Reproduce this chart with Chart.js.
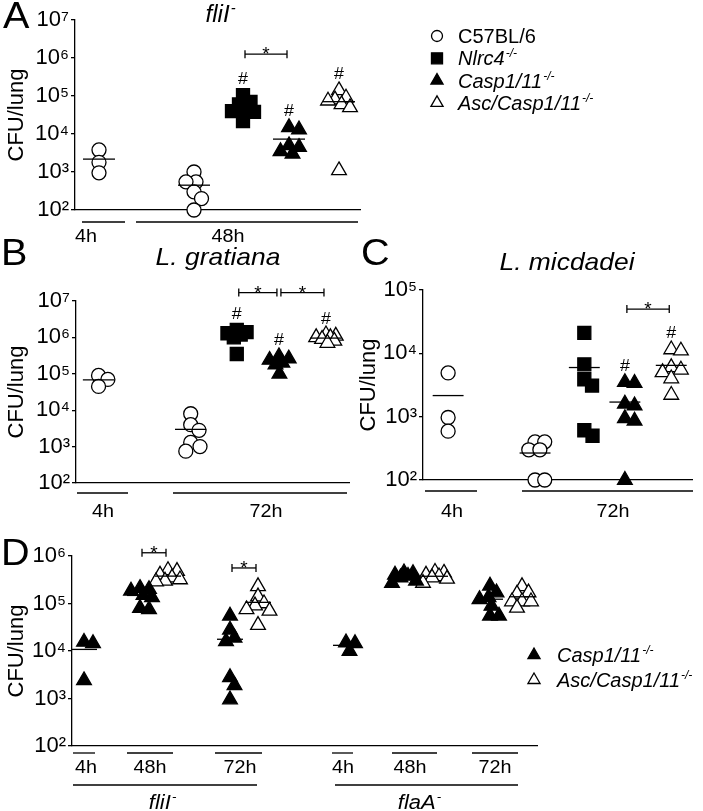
<!DOCTYPE html>
<html lang="en">
<head>
<meta charset="UTF-8">
<title>CFU/lung</title>
<script src="https://cdn.jsdelivr.net/npm/chart.js@4.4.1/dist/chart.umd.min.js"></script>
<style>
  html, body { margin: 0; padding: 0; background: #fff; }
  #fig { position: relative; width: 703px; height: 811px; overflow: hidden; }
  #fig canvas { position: absolute; }
</style>
</head>
<body>
<div id="fig">
  <canvas id="chartA"></canvas>
  <canvas id="chartB"></canvas>
  <canvas id="chartC"></canvas>
  <canvas id="chartD"></canvas>
</div>

<script>
const FONT = "'Liberation Sans', Arial, Helvetica, sans-serif";

// strains (legend order)
const strains = ['C57BL/6', 'Nlrc4', 'Casp1/11', 'Asc/Casp1/11'];
const strainSup = ['', '-/-', '-/-', '-/-'];
const strainItalic = [false, true, true, true];
const strainShape = ['circle', 'rect', 'triangle', 'triangle'];
const strainFill = ['#fff', '#000', '#000', '#fff'];

// A: fliI-  (CFU/lung)
const aC57_4h = [3800, 1800, 950];
const aC57_48h = [1000, 550, 550, 300, 200, 100];
const aNlrc4_48h = [105000, 70000, 60000, 45000, 40000, 38000, 22000];
const aCasp_48h = [15000, 13000, 5000, 4500, 3500, 3000];
const aAsc_48h = [140000, 90000, 80000, 75000, 60000, 50000, 1100];

// B: L. gratiana
const bC57_4h = [90000, 70000, 45000];
const bC57_72h = [8000, 4000, 2800, 1300, 1000, 750];
const bNlrc4_72h = [1600000, 1400000, 1300000, 1200000, 1000000, 350000];
const bCasp_72h = [300000, 260000, 240000, 200000, 180000, 100000];
const bAsc_72h = [1200000, 1100000, 1000000, 1000000, 900000, 800000, 700000];

// C: L. micdadei
const cC57_4h = [4900, 970, 590];
const cC57_72h = [400, 400, 300, 300, 100, 100];
const cNlrc4_72h = [21000, 6700, 3900, 3100, 610, 500];
const cCasp_72h = [3500, 3400, 1600, 1500, 940, 860, 100];
const cAsc_72h = [11500, 11000, 6000, 5500, 5000, 4000, 2200];

// D: fliI- and flaA- mutants
const dFliI_4h_casp = [15500, 14500, 2400];
const dFliI_48h_casp = [210000, 200000, 185000, 150000, 135000, 80000, 75000];
const dFliI_48h_asc = [500000, 480000, 400000, 350000, 320000, 300000, 290000];
const dFliI_72h_casp = [55000, 28000, 19000, 16000, 2800, 1900, 950];
const dFliI_72h_asc = [230000, 140000, 100000, 90000, 75000, 70000, 35000];
const dFlaA_4h_casp = [15000, 14500, 10000];
const dFlaA_48h_casp = [450000, 430000, 400000, 380000, 350000, 300000, 270000];
const dFlaA_48h_asc = [460000, 440000, 400000, 370000, 350000, 330000, 270000];
const dFlaA_72h_casp = [235000, 170000, 135000, 123000, 89000, 55000, 55000];
const dFlaA_72h_asc = [230000, 170000, 160000, 110000, 110000, 110000, 81000];

const SUP = {'0':'\u2070','1':'\u00B9','2':'\u00B2','3':'\u00B3','4':'\u2074','5':'\u2075','6':'\u2076','7':'\u2077','8':'\u2078','9':'\u2079'};
function pow10Label(v) {
  const e = Math.round(Math.log10(v));
  return '10' + String(e).split('').map(c => SUP[c]).join('');
}

function mean(arr) { return arr.reduce((s, v) => s + v, 0) / arr.length; }

// compact beeswarm: markers with similar values sit side by side, overlapping a bit
function swarm(values, pxPerDecade, dist, maxOff) {
  const placed = [];
  const cands = [];
  for (let c = -maxOff; c <= maxOff + 1e-9; c += 0.5) cands.push(c);
  cands.sort((a, b) => Math.abs(a) - Math.abs(b) || b - a);
  return values.map(v => {
    const y = Math.log10(v) * pxPerDecade;
    const score = c => placed.reduce((m, p) => Math.min(m, Math.hypot(p.x - c, p.y - y)), Infinity);
    let best = cands.find(c => score(c) >= dist);
    if (best === undefined) best = cands.reduce((b, c) => (score(c) > score(b) ? c : b), 0);
    placed.push({x: best, y});
    return best;
  });
}

function drawText(ctx, main, sup, x, y, size, italic, align, sx) {
  const f = sz => (italic ? 'italic ' : '') + sz + 'px ' + FONT;
  ctx.save();
  ctx.font = f(size);
  const w1 = ctx.measureText(main).width;
  ctx.font = f(Math.round(size * 0.6));
  const w2 = sup ? ctx.measureText(sup).width : 0;
  const total = (w1 + w2) * sx;
  const x0 = align === 'center' ? x - total / 2 : x;
  ctx.translate(x0, y);
  ctx.scale(sx, 1);
  ctx.fillStyle = '#000';
  ctx.textAlign = 'left';
  ctx.textBaseline = 'alphabetic';
  ctx.font = f(size);
  ctx.fillText(main, 0, 0);
  if (sup) {
    ctx.font = f(Math.round(size * 0.6));
    ctx.fillText(sup, w1 + 1, -size * 0.4);
  }
  ctx.restore();
}

function drawMarker(ctx, s, x, y, r) {
  ctx.save();
  ctx.fillStyle = strainFill[s];
  ctx.strokeStyle = '#000';
  ctx.lineWidth = 1.3;
  ctx.beginPath();
  if (strainShape[s] === 'circle') {
    ctx.arc(x, y, r, 0, Math.PI * 2);
  } else if (strainShape[s] === 'rect') {
    const h = r * Math.SQRT1_2;
    ctx.rect(x - h, y - h, 2 * h, 2 * h);
  } else {
    ctx.moveTo(x, y - r);
    ctx.lineTo(x + r * 0.866, y + r / 2);
    ctx.lineTo(x - r * 0.866, y + r / 2);
    ctx.closePath();
  }
  ctx.fill();
  ctx.stroke();
  ctx.restore();
}

function line(ctx, x1, y1, x2, y2) {
  ctx.beginPath();
  ctx.moveTo(x1, y1);
  ctx.lineTo(x2, y2);
  ctx.stroke();
}

function drawDeco(chart, p) {
  const ctx = chart.ctx;
  const ox = p.box[0], oy = p.box[1];
  const xs = chart.scales.x, ys = chart.scales.y;
  ctx.save();
  ctx.strokeStyle = '#000';
  ctx.lineWidth = 1.3;

  drawText(ctx, p.letter[0], '', p.letter[1] - ox, p.letter[2] - oy, 36, false, 'left', 1.1);
  if (p.title) {
    const t = p.title;
    drawText(ctx, t.text, t.sup, t.x - ox, t.y - oy, t.size, true, 'center', t.sx);
  }

  // significance vs C57BL/6
  (p.hashes || []).forEach(gi => {
    const g = p.groups[gi];
    const x = xs.getPixelForValue(g.x);
    const y = ys.getPixelForValue(Math.max(...g.values)) - 17;
    drawText(ctx, '#', '', x, y + 6, 17, false, 'center', 1.05);
  });

  // brackets with *
  (p.brackets || []).forEach(([i, j, v]) => {
    const x1 = xs.getPixelForValue(p.groups[i].x) + 2;
    const x2 = xs.getPixelForValue(p.groups[j].x) - 2;
    const y = ys.getPixelForValue(v);
    line(ctx, x1, y, x2, y);
    line(ctx, x1, y - 4, x1, y + 4);
    line(ctx, x2, y - 4, x2, y + 4);
    drawText(ctx, '*', '', (x1 + x2) / 2, y + 6, 19, false, 'center', 1);
  });

  // time / strain underlines and labels
  (p.underlines || []).forEach(([x1, x2, y]) => line(ctx, x1 - ox, y - oy, x2 - ox, y - oy));
  (p.labels || []).forEach(l => {
    drawText(ctx, l.text, l.sup || '', l.x - ox, l.y - oy, l.size, !!l.italic, 'center', 1.1);
  });

  if (p.legend) {
    const lg = p.legend;
    lg.items.forEach((s, k) => {
      const y = lg.y + k * lg.step - oy;
      drawMarker(ctx, s, lg.x - ox, y, strainShape[s] === 'rect' ? 7.8 : (strainShape[s] === 'circle' ? 5.5 : 7));
      drawText(ctx, strains[s], strainSup[s], lg.tx - ox, y + 7, 20, strainItalic[s], 'left', 1);
    });
  }
  ctx.restore();
}

function makePanel(p) {
  const cv = document.getElementById(p.id);
  const [cl, ct, cw, ch] = p.box;
  const [al, at, ar, ab] = p.area;
  cv.width = cw;
  cv.height = ch;
  cv.style.left = cl + 'px';
  cv.style.top = ct + 'px';
  const decades = Math.log10(p.yMax) - Math.log10(p.yMin);
  const pxPerDecade = (ab - at) / decades;
  const powers = [];
  for (let e = Math.log10(p.yMin); e <= Math.log10(p.yMax) + 1e-9; e++) powers.push(Math.pow(10, e));

  const datasets = [];
  p.groups.forEach(g => {
    const s = g.strain;
    const offs = swarm(g.values, pxPerDecade, p.dist, p.maxOff);
    datasets.push({
      type: 'scatter',
      data: g.values.map((v, i) => ({x: g.x + offs[i], y: v})),
      pointStyle: strainShape[s],
      pointRadius: p.radius[s],
      backgroundColor: strainFill[s],
      borderColor: '#000',
      borderWidth: 1.3,
      clip: false,
      order: 2
    });
    const m = mean(g.values);
    datasets.push({
      type: 'line',
      data: [{x: g.x - p.meanHalf, y: m}, {x: g.x + p.meanHalf, y: m}],
      borderColor: '#000',
      borderWidth: 1.3,
      pointRadius: 0,
      showLine: true,
      clip: false,
      order: 1
    });
  });

  return new Chart(cv, {
    type: 'scatter',
    data: {datasets},
    options: {
      responsive: false,
      animation: false,
      events: [],
      layout: {padding: {left: 0, top: at - ct, right: cl + cw - ar, bottom: ct + ch - ab}},
      plugins: {legend: {display: false}, tooltip: {enabled: false}},
      scales: {
        x: {
          type: 'linear', min: al, max: ar,
          ticks: {display: false},
          grid: {display: false},
          border: {display: true, color: '#000', width: 1.3},
          afterFit: s => { s.height = 0; }
        },
        y: {
          type: 'logarithmic', min: p.yMin, max: p.yMax,
          afterBuildTicks: s => { s.ticks = powers.map(v => ({value: v})); },
          ticks: {callback: pow10Label, color: '#000', font: {family: FONT, size: 22}, padding: 2, autoSkip: false},
          grid: {drawOnChartArea: false, tickLength: 4, color: '#000', lineWidth: 1.3},
          border: {display: true, color: '#000', width: 1.3},
          title: {display: true, text: 'CFU/lung', color: '#000', font: {family: FONT, size: 22}, padding: {top: 4, bottom: 0}},
          afterFit: s => { s.width = al - cl; }
        }
      }
    },
    plugins: [{id: 'deco', afterDraw: c => drawDeco(c, p)}]
  });
}

const radiusStd = [7, 9.2, 8.5, 8.5];

makePanel({
  id: 'chartA', box: [0, 0, 703, 250], area: [75, 20, 360, 210],
  yMin: 1e2, yMax: 1e7, dist: 10, maxOff: 11, meanHalf: 16, radius: radiusStd,
  groups: [
    {strain: 0, x: 99, values: aC57_4h},
    {strain: 0, x: 194, values: aC57_48h},
    {strain: 1, x: 243, values: aNlrc4_48h},
    {strain: 2, x: 289, values: aCasp_48h},
    {strain: 3, x: 339, values: aAsc_48h}
  ],
  hashes: [2, 3, 4],
  brackets: [[2, 3, 1.26e6]],
  underlines: [[82, 125, 222], [136, 358, 222]],
  labels: [
    {text: '4h', x: 86, y: 242, size: 18},
    {text: '48h', x: 228, y: 242, size: 18}
  ],
  letter: ['A', 3, 28],
  title: {text: 'fliI', sup: '-', x: 220, y: 22, size: 23, sx: 1.05},
  legend: {items: [0, 1, 2, 3], x: 437, tx: 458, y: 36, step: 22.3}
});

makePanel({
  id: 'chartB', box: [0, 235, 360, 290], area: [76, 301, 355, 483],
  yMin: 1e2, yMax: 1e7, dist: 10, maxOff: 11, meanHalf: 16, radius: radiusStd,
  groups: [
    {strain: 0, x: 99, values: bC57_4h},
    {strain: 0, x: 193, values: bC57_72h},
    {strain: 1, x: 240, values: bNlrc4_72h},
    {strain: 2, x: 283, values: bCasp_72h},
    {strain: 3, x: 331, values: bAsc_72h}
  ],
  hashes: [2, 3, 4],
  brackets: [[2, 3, 1.7e7], [3, 4, 1.7e7]],
  underlines: [[77, 128, 493], [173, 347, 493]],
  labels: [
    {text: '4h', x: 103, y: 517, size: 18},
    {text: '72h', x: 266, y: 517, size: 18}
  ],
  letter: ['B', 1, 265],
  title: {text: 'L. gratiana', sup: '', x: 218, y: 265, size: 24, sx: 1.1}
});

makePanel({
  id: 'chartC', box: [352, 235, 351, 290], area: [423, 290, 702, 480],
  yMin: 1e2, yMax: 1e5, dist: 10, maxOff: 11, meanHalf: 16, radius: radiusStd,
  groups: [
    {strain: 0, x: 449, values: cC57_4h},
    {strain: 0, x: 539, values: cC57_72h},
    {strain: 1, x: 590, values: cNlrc4_72h},
    {strain: 2, x: 632, values: cCasp_72h},
    {strain: 3, x: 680, values: cAsc_72h}
  ],
  hashes: [3, 4],
  brackets: [[3, 4, 5e4]],
  underlines: [[425, 477, 491], [522, 693, 491]],
  labels: [
    {text: '4h', x: 452, y: 517, size: 18},
    {text: '72h', x: 613, y: 517, size: 18}
  ],
  letter: ['C', 361, 265],
  title: {text: 'L. micdadei', sup: '', x: 567, y: 270, size: 24, sx: 1.1}
});

makePanel({
  id: 'chartD', box: [0, 530, 703, 281], area: [72, 556, 537, 746],
  yMin: 1e2, yMax: 1e6, dist: 9, maxOff: 12, meanHalf: 13, radius: radiusStd,
  groups: [
    {strain: 2, x: 84, values: dFliI_4h_casp},
    {strain: 2, x: 140, values: dFliI_48h_casp},
    {strain: 3, x: 168, values: dFliI_48h_asc},
    {strain: 2, x: 230, values: dFliI_72h_casp},
    {strain: 3, x: 258, values: dFliI_72h_asc},
    {strain: 2, x: 346, values: dFlaA_4h_casp},
    {strain: 2, x: 404, values: dFlaA_48h_casp},
    {strain: 3, x: 435, values: dFlaA_48h_asc},
    {strain: 2, x: 490, values: dFlaA_72h_casp},
    {strain: 3, x: 522, values: dFlaA_72h_asc}
  ],
  brackets: [[1, 2, 1.17e6], [3, 4, 5.6e5]],
  underlines: [
    [73, 95, 753], [127, 173, 753], [215, 262, 753],
    [332, 353, 753], [392, 437, 753], [472, 518, 753],
    [73, 257, 785], [335, 518, 785]
  ],
  labels: [
    {text: '4h', x: 86, y: 773, size: 18},
    {text: '48h', x: 150, y: 773, size: 18},
    {text: '72h', x: 240, y: 773, size: 18},
    {text: '4h', x: 343, y: 773, size: 18},
    {text: '48h', x: 410, y: 773, size: 18},
    {text: '72h', x: 495, y: 773, size: 18},
    {text: 'fliI', sup: '-', italic: true, x: 162, y: 809, size: 20},
    {text: 'flaA', sup: '-', italic: true, x: 419, y: 809, size: 20}
  ],
  letter: ['D', 1, 565],
  legend: {items: [2, 3], x: 534, tx: 557, y: 655, step: 25}
});
</script>
</body>
</html>
